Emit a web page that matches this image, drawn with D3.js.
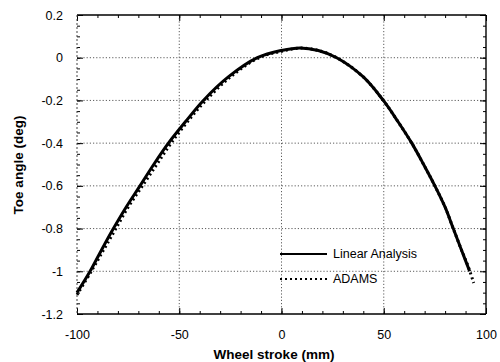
<!DOCTYPE html>
<html>
<head>
<meta charset="utf-8">
<script src="https://cdn.jsdelivr.net/npm/d3@7"></script>
<style>
  html, body { margin: 0; padding: 0; background: #fff; }
  svg { display: block; }
  text { font-family: "Liberation Sans", Arial, Helvetica, sans-serif; fill: #000; }
</style>
</head>
<body>
<svg id="chart" width="500" height="362"></svg>
<script>
// ---- data ----
const xTicks = [-100, -50, 0, 50, 100];
const xMinorTicks = d3.range(-90, 100, 10);
const yTicks = [0.2, 0, -0.2, -0.4, -0.6, -0.8, -1, -1.2];
const yMinorTicks = d3.range(-1.15, 0.2, 0.05).map(v => +v.toFixed(2));
const xGrid = [-50, 0, 50];
const yGrid = [0, -0.2, -0.4, -0.6, -0.8, -1];

const linearX = [-100, -93.6, -88, -82.2, -76, -69.2, -62.5, -55.3, -47, -38.2, -26, -11.8, 0, 9, 18, 27, 40, 49.8, 57, 63.7, 69.5, 75, 80, 84, 88, 92];
const linearY = [-1.10, -1.0, -0.90, -0.8, -0.7, -0.6, -0.5, -0.4, -0.3, -0.2, -0.09, 0.0, 0.034, 0.046, 0.034, 0.0, -0.09, -0.2, -0.3, -0.4, -0.5, -0.6, -0.7, -0.8, -0.9, -1.0];

const adamsX = [-100, -93, -87, -81, -75, -68, -61, -54, -46, -37, -25, -11, 0, 9, 18, 27, 40, 49.8, 57, 63.7, 69.5, 75, 80, 84, 88, 91, 94];
const adamsY = [-1.11, -1.0, -0.9, -0.8, -0.7, -0.6, -0.5, -0.4, -0.3, -0.2, -0.09, 0.0, 0.03, 0.045, 0.034, 0.0, -0.09, -0.2, -0.3, -0.4, -0.5, -0.6, -0.7, -0.8, -0.9, -0.97, -1.055];

const seriesNames = ["Linear Analysis", "ADAMS"];

// ---- layout ----
const svg = d3.select("#chart");
const L = 77, R = 486, T = 15, B = 314;
const x = d3.scaleLinear().domain([-100, 100]).range([L, R]);
const y = d3.scaleLinear().domain([-1.2, 0.2]).range([B, T]);
const fmt = d => String(+d.toFixed(2));  // plain hyphen minus, like the original

// gridlines
const grid = svg.append("g").attr("stroke", "#333").attr("stroke-width", 0.8).attr("stroke-dasharray", "1.2,2");
grid.selectAll("line.gy").data(yGrid).join("line")
  .attr("x1", L).attr("x2", R).attr("y1", d => y(d)).attr("y2", d => y(d));
grid.selectAll("line.gx").data(xGrid).join("line")
  .attr("y1", T).attr("y2", B).attr("x1", d => x(d)).attr("x2", d => x(d));

// axes (ticks pointing inward)
function styleAxis(g) {
  g.select(".domain").remove();
  g.selectAll(".tick line").attr("stroke", "#000").attr("stroke-width", 1);
  g.selectAll(".tick text").attr("font-size", 12.5).attr("fill", "#000");
}
svg.append("g").attr("transform", `translate(0,${B})`)
  .call(d3.axisBottom(x).tickValues(xMinorTicks).tickSize(-3).tickFormat(""))
  .call(styleAxis);
svg.append("g").attr("transform", `translate(0,${B})`)
  .call(d3.axisBottom(x).tickValues(xTicks).tickSize(-6).tickPadding(16).tickFormat(fmt))
  .call(styleAxis);
svg.append("g").attr("transform", `translate(0,${T})`)
  .call(d3.axisTop(x).tickValues(xMinorTicks).tickSize(-3).tickFormat(""))
  .call(styleAxis);
svg.append("g").attr("transform", `translate(0,${T})`)
  .call(d3.axisTop(x).tickValues(xTicks).tickSize(-6).tickFormat(""))
  .call(styleAxis);
svg.append("g").attr("transform", `translate(${L},0)`)
  .call(d3.axisLeft(y).tickValues(yMinorTicks).tickSize(-3).tickFormat(""))
  .call(styleAxis);
svg.append("g").attr("transform", `translate(${L},0)`)
  .call(d3.axisLeft(y).tickValues(yTicks).tickSize(-6).tickPadding(14).tickFormat(fmt))
  .call(styleAxis);
svg.append("g").attr("transform", `translate(${R},0)`)
  .call(d3.axisRight(y).tickValues(yMinorTicks).tickSize(-3).tickFormat(""))
  .call(styleAxis);
svg.append("g").attr("transform", `translate(${R},0)`)
  .call(d3.axisRight(y).tickValues(yTicks).tickSize(-6).tickFormat(""))
  .call(styleAxis);

// frame
svg.append("line").attr("x1", L).attr("x2", R).attr("y1", T).attr("y2", T).attr("stroke", "#000").attr("stroke-width", 1.4);
svg.append("line").attr("x1", L).attr("x2", R).attr("y1", B).attr("y2", B).attr("stroke", "#000").attr("stroke-width", 1.4);
svg.append("line").attr("x1", R).attr("x2", R).attr("y1", T).attr("y2", B).attr("stroke", "#000").attr("stroke-width", 1.4);
svg.append("line").attr("x1", L).attr("x2", L).attr("y1", T).attr("y2", B).attr("stroke", "#444").attr("stroke-width", 1).attr("stroke-dasharray", "2,2");

// curves
const line = d3.line().x(d => x(d[0])).y(d => y(d[1])).curve(d3.curveCatmullRom.alpha(0.5));
const adamsData = adamsX.map((v, i) => [v, adamsY[i]]);
const linearData = linearX.map((v, i) => [v, linearY[i]]);
svg.append("path").datum(adamsData).attr("d", line)
  .attr("fill", "none").attr("stroke", "#000").attr("stroke-width", 3).attr("stroke-dasharray", "2,3");
svg.append("path").datum(linearData).attr("d", line)
  .attr("fill", "none").attr("stroke", "#000").attr("stroke-width", 3);

// legend
const leg = svg.append("g");
leg.append("line").attr("x1", 280).attr("x2", 327).attr("y1", 254).attr("y2", 254)
  .attr("stroke", "#000").attr("stroke-width", 2.2);
leg.append("line").attr("x1", 280).attr("x2", 327).attr("y1", 279).attr("y2", 279)
  .attr("stroke", "#000").attr("stroke-width", 2.2).attr("stroke-dasharray", "2,3");
leg.append("text").attr("x", 333).attr("y", 258).attr("font-size", 12.5).text(seriesNames[0]);
leg.append("text").attr("x", 333).attr("y", 283).attr("font-size", 12.5).text(seriesNames[1]);

// axis titles
svg.append("text").attr("x", 274).attr("y", 359).attr("text-anchor", "middle")
  .attr("font-size", 13.5).attr("font-weight", "bold").text("Wheel stroke (mm)");
svg.append("text").attr("transform", "translate(23,165) rotate(-90)").attr("text-anchor", "middle")
  .attr("font-size", 13.5).attr("font-weight", "bold").text("Toe angle (deg)");
</script>
</body>
</html>
